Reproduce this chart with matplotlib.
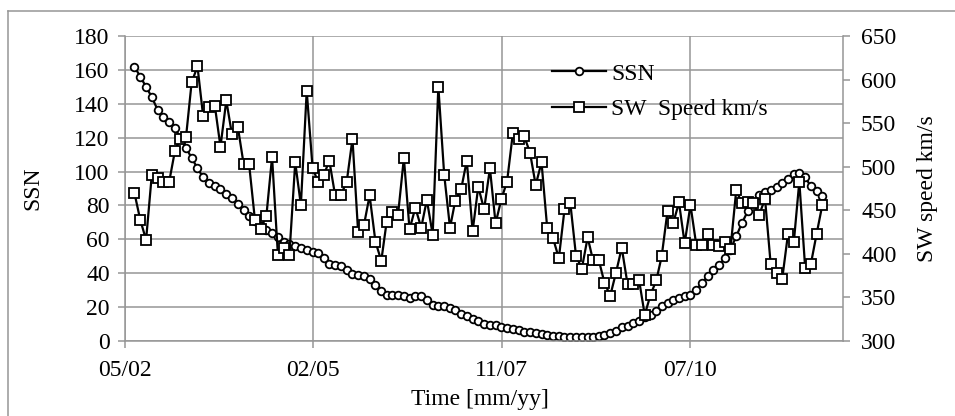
import pandas as pd
import matplotlib.pyplot as plt
from matplotlib.lines import Line2D

plt.rcParams["font.family"] = ["Liberation Serif", "DejaVu Serif"]

# monthly values, Jul 2002 .. Jul 2012
dates = pd.date_range("2002-07-01", periods=121, freq="MS")

ssn = [162, 156, 150, 144, 136.5, 132, 129.5, 126, 120, 114,
       108, 102, 96.5, 93.5, 91.5, 89.5, 87, 84.5, 81, 77.5,
       73.5, 71, 68, 65.5, 63.5, 61.5, 58.6, 57, 56, 55,
       53.8, 52.8, 52, 49, 45.5, 45, 44.4, 42, 39.7, 39.1,
       38.2, 36.4, 33.2, 29.3, 27.3, 27.3, 27.3, 26.4, 25.4, 26.7,
       26.4, 24, 21.4, 20.8, 20.5, 19.5, 18.1, 16.1, 14.6, 13,
       11.6, 10.2, 9.6, 9.2, 8.3, 7.6, 6.8, 6.2, 5.6, 5.2,
       4.8, 4.2, 3.6, 3.1, 2.7, 2.4, 2.2, 2.1, 2.1, 2.3,
       2.6, 3.2, 3.8, 4.6, 6.0, 8.3, 9.0, 10.6, 12, 14.2,
       15.5, 17.5, 20.5, 22.4, 24, 25.4, 26.4, 27.3, 30.3, 34.2,
       38.2, 42.1, 45, 49, 53.9, 61.7, 69.6, 76.5, 81.4, 86.3,
       87.7, 88.9, 90.7, 93.2, 95.6, 98.7, 99.1, 96.8, 91.2, 88.3,
       85.3]

sw_speed = [470, 439, 416, 490, 487, 483, 482, 518, 532, 534,
            597, 615, 558, 568, 570, 523, 576, 537, 546, 503,
            503, 439, 428, 444, 511, 399, 407, 399, 505, 456,
            587, 499, 483, 490, 507, 467, 468, 482, 532, 425,
            433, 467, 414, 392, 436, 448, 445, 510, 428, 453,
            430, 462, 422, 592, 491, 430, 461, 474, 507, 426,
            477, 451, 498, 435, 463, 483, 539, 532, 535, 516,
            479, 505, 430, 418, 395, 451, 458, 398, 383, 419,
            393, 393, 367, 352, 378, 407, 365, 365, 370, 330,
            353, 370, 397, 449, 435, 459, 412, 456, 410, 410,
            423, 410, 409, 414, 405, 473, 458, 460, 458, 445,
            463, 388, 378, 371, 423, 414, 483, 384, 388, 423,
            456]

# axis: ticks every 1000 days from mid May 2002
x_start = pd.Timestamp("2002-05-12")
x_end = x_start + pd.Timedelta(days=3813)
x_ticks = [x_start + pd.Timedelta(days=1000 * k) for k in range(4)]
x_labels = [t.strftime("%m/%y") for t in x_ticks]

grid_c = "#969696"
fs = 17

fig = plt.figure(figsize=(9.55, 4.16), dpi=100)
ax = fig.add_axes([125 / 955, 1 - 341 / 416, (843 - 125) / 955, (341 - 36) / 416])
ax2 = ax.twinx()

ax.plot(dates, ssn, color="black", lw=1.6, marker="o", ms=5.5,
        mfc="white", mec="black", mew=1.3, label="SSN")
ax2.plot(dates, sw_speed, color="black", lw=1.6, marker="s", ms=7.2,
         mfc="white", mec="black", mew=1.3, label="SW  Speed km/s")

ax.set_xlim(x_start, x_end)
ax.set_xticks(x_ticks)
ax.set_xticklabels(x_labels)
ax.set_ylim(0, 180)
ax.set_yticks(range(0, 181, 20))
ax2.set_ylim(300, 650)
ax2.set_yticks(range(300, 651, 50))

ax.grid(True, color=grid_c, lw=1.1)
ax.set_axisbelow(True)

for s in ["top", "right"]:
    ax.spines[s].set_visible(False)
for s in ["left", "bottom"]:
    ax.spines[s].set_color(grid_c)
    ax.spines[s].set_linewidth(1.1)
for s in ["top", "left", "bottom"]:
    ax2.spines[s].set_visible(False)
ax2.spines["right"].set_color(grid_c)
ax2.spines["right"].set_linewidth(1.1)

ax.tick_params(axis="both", direction="out", length=5, width=1.1,
               color=grid_c, labelsize=fs, pad=6)
ax.tick_params(axis="x", pad=9)
ax2.tick_params(axis="y", direction="out", length=5, width=1.1,
                color=grid_c, labelsize=fs, pad=8)

ax.set_ylabel("SSN", fontsize=fs, ha="center", va="center")
ax.yaxis.set_label_coords(-0.128, 0.5)
ax2.set_ylabel("SW speed km/s", fontsize=fs, ha="center", va="center")
ax2.yaxis.set_label_coords(1.117, 0.5)
ax.set_xlabel("Time [mm/yy]", fontsize=fs, ha="center", va="center")
ax.xaxis.set_label_coords(0.494, -0.193)

h1, l1 = ax.get_legend_handles_labels()
h2, l2 = ax2.get_legend_handles_labels()
ax2.legend(h1 + h2, l1 + l2, loc="upper left",
           bbox_to_anchor=(552 / 955, 1 - 63 / 416),
           bbox_transform=fig.transFigure, frameon=False, fontsize=fs,
           handlelength=2.3, handletextpad=0.2, labelspacing=0.6,
           borderpad=0, borderaxespad=0)

# chart area border
fig.add_artist(Line2D([8 / 955, 8 / 955], [0, 1 - 11 / 416],
                      transform=fig.transFigure, color=grid_c, lw=1.1))
fig.add_artist(Line2D([8 / 955, 1], [1 - 11 / 416, 1 - 11 / 416],
                      transform=fig.transFigure, color=grid_c, lw=1.1))

fig.savefig("out.png", dpi=100)
plt.close(fig)
